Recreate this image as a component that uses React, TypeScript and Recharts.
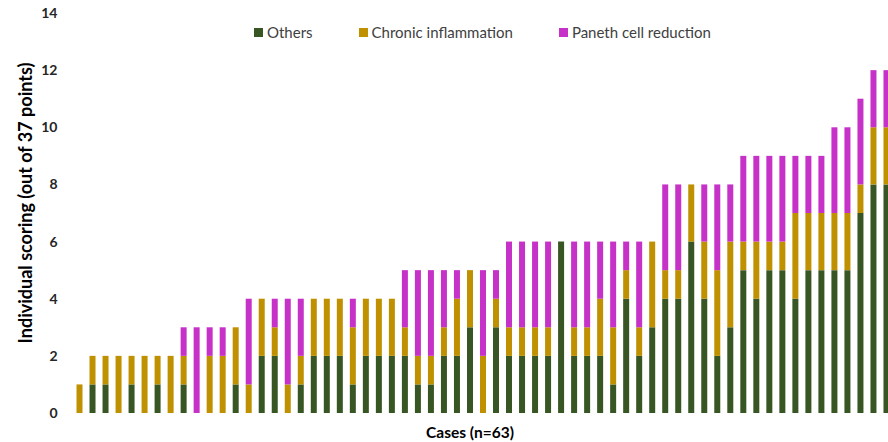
import React from 'react';
import { BarChart, Bar, XAxis, YAxis, Label } from 'recharts';

const cases: number[] = Array.from({ length: 63 }, (_, i) => i + 1);
const others: number[] = [0,1,1,0,1,0,1,0,1,0, 0,0,1,0,2,2,0,1,2,2, 2,1,2,2,2,2,1,1,2,2, 3,0,3,2,2,2,2,6,2,2, 2,1,4,2,3,4,4,6,4,2, 3,5,4,5,5,4,5,5,5,5, 7,8,8];
const chronic: number[] = [1,1,1,2,1,2,1,2,1,0, 2,2,2,1,2,1,1,1,2,2, 2,2,2,2,2,1,1,1,1,2, 2,2,1,1,1,1,1,0,1,1, 2,2,1,1,3,1,1,2,2,3, 3,1,2,1,1,3,2,2,2,2, 1,2,2];
const paneth: number[] = [0,0,0,0,0,0,0,0,1,3, 1,1,0,3,0,1,3,2,0,0, 0,1,0,0,0,2,3,3,2,1, 0,3,1,3,3,3,3,0,3,3, 2,3,1,3,0,3,3,0,2,3, 2,3,3,3,3,2,2,2,3,3, 3,2,2];
const yTicks: number[] = [0, 2, 4, 6, 8, 10, 12, 14];

const seriesNames = ['Others', 'Chronic inflammation', 'Paneth cell reduction'];
const colors = ['#375623', '#BF9000', '#C632C8'];

const data = cases.map((c, i) => ({
  case: c,
  others: others[i],
  chronic: chronic[i],
  paneth: paneth[i],
}));

const FONT = 'Lato, "Liberation Sans", sans-serif';

const YLabel = (props: any) => {
  const vb = props.viewBox || {};
  const cx = 25;
  const cy = vb.y + vb.height / 2 - 10;
  return (
    <text
      x={cx}
      y={cy}
      transform={`rotate(-90, ${cx}, ${cy})`}
      textAnchor="middle"
      dominantBaseline="central"
      style={{ fontFamily: FONT, fontSize: 18, fontWeight: 700, fill: '#000' }}
    >
      Individual scoring (out of 37 points)
    </text>
  );
};

const XLabel = (props: any) => {
  const vb = props.viewBox || {};
  const cx = 470;
  const cy = vb.y + 19;
  return (
    <text
      x={cx}
      y={cy}
      textAnchor="middle"
      dominantBaseline="central"
      style={{ fontFamily: FONT, fontSize: 15.5, fontWeight: 700, fill: '#000' }}
    >
      Cases (n=63)
    </text>
  );
};

const gaps = [0, 46, 46];

export default function App() {
  return (
    <div style={{ position: 'absolute', left: 0, top: 0, width: 888, height: 442, overflow: 'hidden', background: '#fff' }}>
      <BarChart
        width={900}
        height={442}
        data={data}
        margin={{ top: 13, right: 7.5, left: 0, bottom: 0 }}
        barSize={6}
      >
        <XAxis dataKey="case" tick={false} axisLine={false} tickLine={false} height={29}>
          <Label content={<XLabel />} />
        </XAxis>
        <YAxis
          width={72.5}
          domain={[0, 14]}
          ticks={yTicks}
          interval={0}
          axisLine={false}
          tickLine={false}
          tickSize={0}
          tickMargin={15}
          tick={{ fontFamily: FONT, fontSize: 14, fontWeight: 700, fill: '#262626' }}
        >
          <Label content={<YLabel />} />
        </YAxis>
        <Bar dataKey="others" name={seriesNames[0]} stackId="a" fill={colors[0]} isAnimationActive={false} />
        <Bar dataKey="chronic" name={seriesNames[1]} stackId="a" fill={colors[1]} isAnimationActive={false} />
        <Bar dataKey="paneth" name={seriesNames[2]} stackId="a" fill={colors[2]} isAnimationActive={false} />
      </BarChart>
      <div
        style={{
          position: 'absolute',
          left: 254,
          top: 23,
          display: 'flex',
          alignItems: 'center',
          fontFamily: FONT,
          fontSize: 15,
          color: '#404040',
          lineHeight: '18px',
          whiteSpace: 'nowrap',
        }}
      >
        {seriesNames.map((name, i) => (
          <div key={name} style={{ display: 'flex', alignItems: 'center', marginLeft: gaps[i] }}>
            <div style={{ width: 9, height: 9, background: colors[i], marginRight: 4 }} />
            <span>{name}</span>
          </div>
        ))}
      </div>
    </div>
  );
}
